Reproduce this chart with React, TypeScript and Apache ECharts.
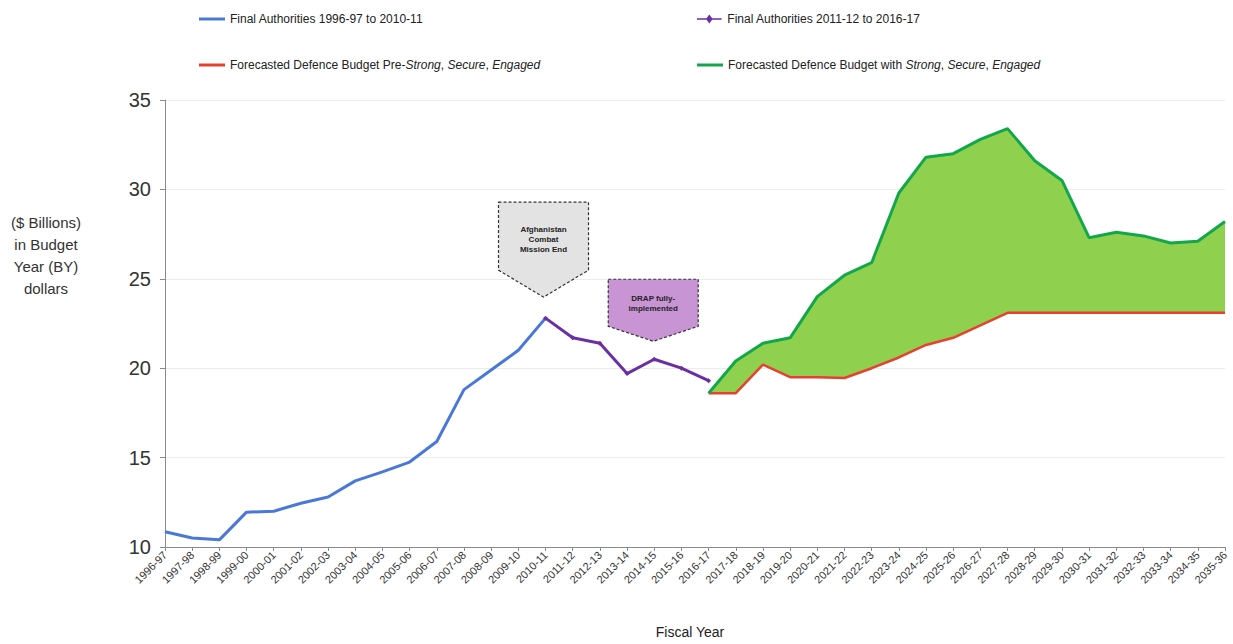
import React, { useEffect, useRef } from 'react';
import * as echarts from 'echarts';

const years = [
  '1996-97', '1997-98', '1998-99', '1999-00', '2000-01', '2001-02', '2002-03', '2003-04',
  '2004-05', '2005-06', '2006-07', '2007-08', '2008-09', '2009-10', '2010-11', '2011-12',
  '2012-13', '2013-14', '2014-15', '2015-16', '2016-17', '2017-18', '2018-19', '2019-20',
  '2020-21', '2021-22', '2022-23', '2023-24', '2024-25', '2025-26', '2026-27', '2027-28',
  '2028-29', '2029-30', '2030-31', '2031-32', '2032-33', '2033-34', '2034-35', '2035-36',
];

// Final Authorities 1996-97 to 2010-11
const finalAuth1 = [10.85, 10.5, 10.4, 11.95, 12.0, 12.45, 12.8, 13.7, 14.2, 14.75, 15.9, 18.8, 19.9, 21.0, 22.8];
// Final Authorities 2011-12 to 2016-17 (starting at 2010-11)
const finalAuth2 = [22.8, 21.7, 21.4, 19.7, 20.5, 20.0, 19.3];
// Forecast pre-SSE (starting at 2016-17)
const preSSE = [18.6, 18.6, 20.2, 19.5, 19.5, 19.45, 20.0, 20.6, 21.3, 21.7, 22.4, 23.1,
  23.1, 23.1, 23.1, 23.1, 23.1, 23.1, 23.1, 23.1];
// Forecast with SSE (starting at 2016-17)
const withSSE = [18.6, 20.4, 21.4, 21.7, 24.0, 25.2, 25.9, 29.8, 31.8, 32.0, 32.8, 33.4,
  31.6, 30.5, 27.3, 27.6, 27.4, 27.0, 27.1, 28.2];

const yTicks = [10, 15, 20, 25, 30, 35];

const pad = (arr: number[], start: number) => {
  const out: (number | null)[] = years.map(() => null);
  arr.forEach((v, i) => { out[start + i] = v; });
  return out;
};

const N1 = 'Final Authorities 1996-97 to 2010-11';
const N2 = 'Final Authorities 2011-12 to 2016-17';
const N3 = 'Forecasted Defence Budget Pre-Strong, Secure, Engaged';
const N4 = 'Forecasted Defence Budget with Strong, Secure, Engaged';

export default function App() {
  const ref = useRef<HTMLDivElement>(null);
  useEffect(() => {
    if (!ref.current) return;
    const chart = echarts.init(ref.current, undefined, { renderer: 'svg' });
    const font = 'Liberation Sans, Arial, sans-serif';
    const fStart = years.indexOf('2016-17');
    const diff = withSSE.map((v, i) => +(v - preSSE[i]).toFixed(2));
    const legendText = { fontFamily: font, fontSize: 12, color: '#222', rich: { i: { fontStyle: 'italic', fontFamily: font, fontSize: 12, color: '#222' }, n: { fontFamily: font, fontSize: 12, color: '#222' } } };
    const richFmt = (name: string) => {
      if (name === N3) return '{n|Forecasted Defence Budget Pre-}{i|Strong}{n|, }{i|Secure}{n|, }{i|Engaged}';
      if (name === N4) return '{n|Forecasted Defence Budget with }{i|Strong}{n|, }{i|Secure}{n|, }{i|Engaged}';
      return name;
    };
    const mkLegend = (name: string, left: number, top: number, plain: boolean) => ({
      data: [plain ? { name, icon: 'rect' } : { name, icon: 'path://M0,4 L10,4 L13,0 L16,4 L26,4 L26,5.5 L16,5.5 L13,9.5 L10,5.5 L0,5.5 Z' }],
      left, top, itemWidth: 26, itemHeight: plain ? 3 : 9, itemGap: 8,
      textStyle: legendText, formatter: richFmt, selectedMode: false,
    });
    chart.setOption({
      animation: false,
      textStyle: { fontFamily: font },
      legend: [
        mkLegend(N1, 194, 8, true),
        mkLegend(N2, 692, 8, false),
        mkLegend(N3, 194, 54, true),
        mkLegend(N4, 692, 54, true),
      ],
      grid: { left: 165, right: 8, top: 100, bottom: 97, containLabel: false },
      xAxis: {
        type: 'category', data: years, boundaryGap: false,
        axisLine: { lineStyle: { color: '#8a8a8a' } },
        axisTick: { interval: 0, lineStyle: { color: '#8a8a8a' }, length: 4 },
        axisLabel: { interval: 0, rotate: 45, fontSize: 11, color: '#333', margin: 6, fontFamily: font },
      },
      yAxis: {
        type: 'value', min: yTicks[0], max: yTicks[yTicks.length - 1], interval: 5,
        axisLine: { show: true, lineStyle: { color: '#8a8a8a' } },
        axisTick: { show: true, lineStyle: { color: '#8a8a8a' }, length: 5 },
        axisLabel: { fontSize: 20, color: '#333', margin: 14, fontFamily: font },
        splitLine: { lineStyle: { color: '#ececec' } },
      },
      series: [
        { name: N1, type: 'line', data: pad(finalAuth1, 0), symbol: 'none', color: '#4a78d8', lineStyle: { width: 3, color: '#4a78d8' }, z: 4 },
        { name: N2, type: 'line', data: pad(finalAuth2, years.indexOf('2010-11')), symbol: 'diamond', symbolSize: 5, color: '#6a2fa0', itemStyle: { color: '#6a2fa0' }, lineStyle: { width: 3, color: '#6a2fa0' }, z: 4 },
        { name: 'base', type: 'line', stack: 'f', data: pad(preSSE, fStart), symbol: 'none', lineStyle: { opacity: 0 }, silent: true, z: 1 },
        { name: 'gap', type: 'line', stack: 'f', data: pad(diff, fStart), symbol: 'none', lineStyle: { opacity: 0 }, areaStyle: { color: '#8fd14f', opacity: 1 }, silent: true, z: 1 },
        { name: N3, type: 'line', data: pad(preSSE, fStart), symbol: 'none', color: '#e8402f', lineStyle: { width: 2.5, color: '#e8402f' }, z: 3 },
        { name: N4, type: 'line', data: pad(withSSE, fStart), symbol: 'none', color: '#12a84a', lineStyle: { width: 3, color: '#12a84a' }, z: 3 },
      ],
    });

    const i1 = years.indexOf('2010-11');
    const i2 = years.indexOf('2014-15');
    const p1 = chart.convertToPixel({ gridIndex: 0 }, [i1, finalAuth1[finalAuth1.length - 1]]) as number[];
    const p2 = chart.convertToPixel({ gridIndex: 0 }, [i2, finalAuth2[i2 - i1]]) as number[];
    const t1 = [p1[0] - 2, p1[1] - 21];
    const t2 = [p2[0] - 1, p2[1] - 18];
    chart.setOption({
      graphic: [
        {
          type: 'polygon', z: 10,
          shape: { points: [[t1[0] - 45, t1[1] - 95], [t1[0] + 45, t1[1] - 95], [t1[0] + 45, t1[1] - 27], [t1[0], t1[1]], [t1[0] - 45, t1[1] - 27]] },
          style: { fill: '#e3e3e3', stroke: '#333', lineWidth: 1.2, lineDash: [3, 2] },
        },
        {
          type: 'text', z: 11, x: t1[0], y: t1[1] - 58,
          style: { text: 'Afghanistan\nCombat\nMission End', fontSize: 8, fontWeight: 'bold', fill: '#222', align: 'center', verticalAlign: 'middle', lineHeight: 10, fontFamily: font },
        },
        {
          type: 'polygon', z: 10,
          shape: { points: [[t2[0] - 45, t2[1] - 62], [t2[0] + 45, t2[1] - 62], [t2[0] + 45, t2[1] - 15], [t2[0], t2[1]], [t2[0] - 45, t2[1] - 15]] },
          style: { fill: '#c994d4', stroke: '#333', lineWidth: 1.2, lineDash: [3, 2] },
        },
        {
          type: 'text', z: 11, x: t2[0], y: t2[1] - 38,
          style: { text: 'DRAP fully-\nimplemented', fontSize: 8, fontWeight: 'bold', fill: '#222', align: 'center', verticalAlign: 'middle', lineHeight: 10, fontFamily: font },
        },
        {
          type: 'text', x: 46, y: 255,
          style: { text: '($ Billions)\nin Budget\nYear (BY)\ndollars', fontSize: 15, fill: '#333', align: 'center', verticalAlign: 'middle', lineHeight: 22, fontFamily: font },
        },
        {
          type: 'text', x: 690, y: 632,
          style: { text: 'Fiscal Year', fontSize: 14, fill: '#222', align: 'center', verticalAlign: 'middle', fontFamily: font },
        },
      ],
    });
    return () => chart.dispose();
  }, []);
  return <div ref={ref} style={{ width: 1233, height: 644, position: 'absolute', left: 0, top: 0 }} />;
}
